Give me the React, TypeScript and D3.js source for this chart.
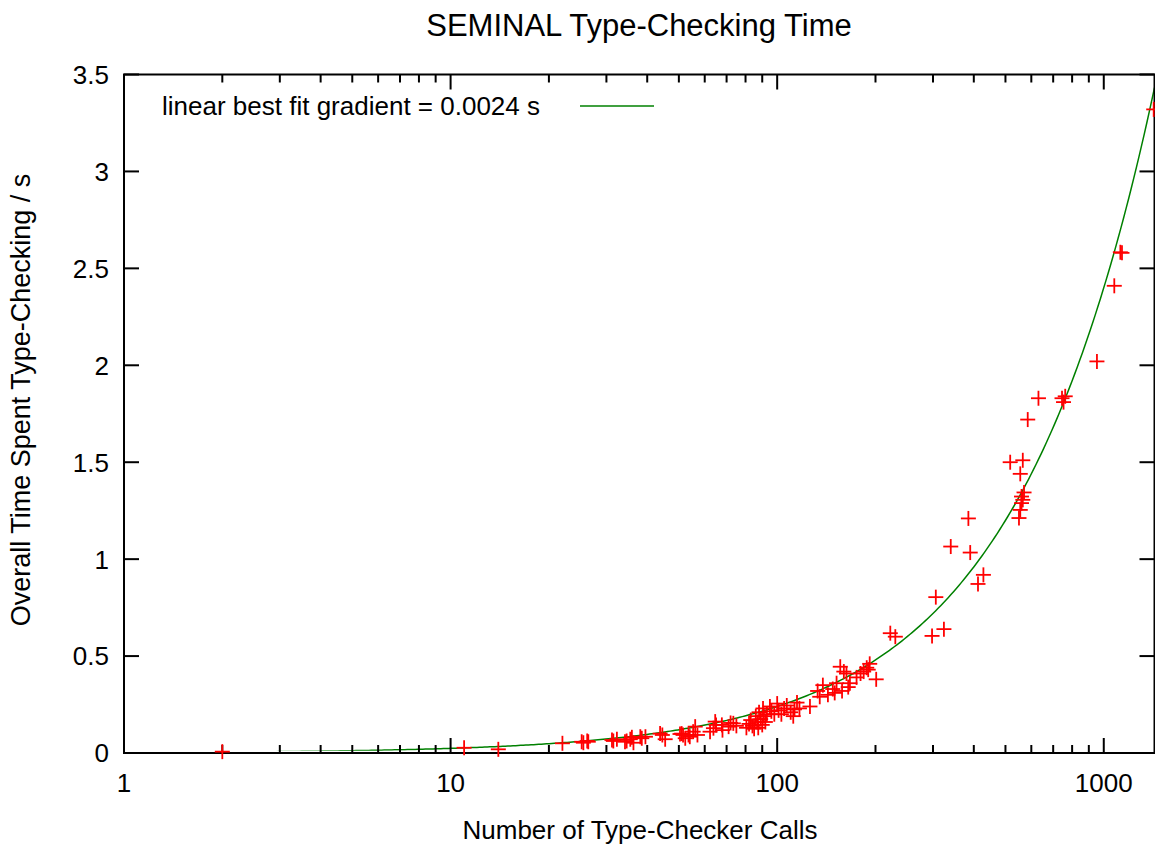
import React from "react";
import * as d3 from "d3";

// number of type-checker calls per run (x) and total time spent type-checking in seconds (y)
const calls = [
  2, 11, 14, 22, 25.2, 25.5, 26.2, 26.4, 31.2, 31.5, 32.3, 34.2, 34.6, 35.5, 35.9, 36.3,
  38.1, 38.5, 39.5, 43.8, 44.5, 45.4, 50.4, 51, 51.5, 52.3, 53.5, 54, 55.3, 56.1, 57,
  62.3, 63.8, 64.6, 65, 67.7, 68, 71, 72, 73.4, 75, 80.5, 82, 83, 84, 85, 86, 87, 87.5,
  88, 89, 90, 90.5, 91, 92, 93, 95, 96, 98, 100, 101, 103, 105, 107, 110, 112, 113, 115,
  117, 126, 133, 135, 138, 143, 148, 150, 152, 156, 158, 160, 163, 165, 167, 175, 180,
  184, 188, 190, 192, 201, 222, 230, 298, 306, 324, 340, 385, 390, 412, 428, 517, 550,
  555, 555, 560, 560, 565, 565, 570, 585, 631, 745, 753, 762, 953, 1077, 1124, 1137, 1422,
];
const seconds = [
  0.007, 0.027, 0.019, 0.05, 0.058, 0.053, 0.062, 0.058, 0.067, 0.062, 0.071, 0.058, 0.062,
  0.071, 0.081, 0.053, 0.084, 0.076, 0.084, 0.1, 0.093, 0.071, 0.098, 0.1, 0.093, 0.076,
  0.093, 0.084, 0.11, 0.136, 0.093, 0.11, 0.128, 0.162, 0.145, 0.145, 0.118, 0.136, 0.155,
  0.153, 0.14, 0.13, 0.15, 0.17, 0.14, 0.125, 0.19, 0.16, 0.13, 0.21, 0.175, 0.145, 0.23,
  0.19, 0.16, 0.2, 0.24, 0.215, 0.2, 0.255, 0.22, 0.2, 0.23, 0.245, 0.21, 0.19, 0.225,
  0.26, 0.23, 0.24, 0.32, 0.29, 0.35, 0.3, 0.33, 0.31, 0.36, 0.445, 0.32, 0.42, 0.41, 0.34,
  0.36, 0.39, 0.41, 0.42, 0.44, 0.43, 0.46, 0.38, 0.618, 0.6, 0.604, 0.804, 0.639, 1.065,
  1.21, 1.034, 0.872, 0.919, 1.5, 1.212, 1.254, 1.44, 1.289, 1.323, 1.306, 1.51, 1.344,
  1.72, 1.83, 1.83, 1.81, 1.84, 2.02, 2.41, 2.583, 2.58, 3.32,
];

const yTickValues = [0, 0.5, 1, 1.5, 2, 2.5, 3, 3.5];
const xTickValues = [1, 10, 100, 1000];
const gradient = 0.0024; // slope of the linear fit, as given in the key

const width = 1155;
const height = 846;
const margin = { top: 74.5, right: 0.5, bottom: 93, left: 124 };
const font = "'Liberation Sans', Arial, sans-serif";

export default function App() {
  const x = d3.scaleLog().domain([1, 1430]).range([margin.left, width - margin.right]);
  const y = d3.scaleLinear().domain([0, 3.5]).range([height - margin.bottom, margin.top]);
  const [x0, x1] = x.range();
  const [yb, yt] = y.range();

  const minorTicks = xTickValues
    .flatMap((d) => d3.range(2, 10).map((k) => d * k))
    .filter((v) => v < x.domain()[1]);

  const fitLine = d3
    .line<number>()
    .x((v) => x(v))
    .y((v) => y(gradient * v));
  const fitXs = d3.range(0, 401).map((i) => Math.pow(10, (i / 400) * Math.log10(x.domain()[1])));

  const points = calls.map((c, i) => ({ c, s: seconds[i] }));
  const arm = 7.5;

  return (
    <svg
      width={width}
      height={height}
      style={{ position: "absolute", left: 0, top: 0, background: "#fff" }}
      fontFamily={font}
    >
      <defs>
        <clipPath id="plotClip">
          <rect x={x0} y={yt} width={x1 - x0} height={yb - yt - 2.2} />
        </clipPath>
      </defs>
      <rect width={width} height={height} fill="#fff" />

      {/* fit curve */}
      <path
        d={fitLine(fitXs) || ""}
        fill="none"
        stroke="#008000"
        strokeWidth={1.5}
        clipPath="url(#plotClip)"
      />

      {/* border */}
      <rect x={x0} y={yt} width={x1 - x0} height={yb - yt} fill="none" stroke="#000" strokeWidth={2} />

      {/* y ticks, mirrored on the right */}
      {yTickValues.map((t) => (
        <g key={"y" + t}>
          <line x1={x0} x2={x0 + 15} y1={y(t)} y2={y(t)} stroke="#000" strokeWidth={2} />
          <line x1={x1} x2={x1 - 15} y1={y(t)} y2={y(t)} stroke="#000" strokeWidth={2} />
          <text x={x0 - 15} y={y(t)} dy="0.36em" textAnchor="end" fontSize={26}>
            {t}
          </text>
        </g>
      ))}

      {/* x major ticks */}
      {xTickValues.map((t) => (
        <g key={"x" + t}>
          <line x1={x(t)} x2={x(t)} y1={yb} y2={yb - 15} stroke="#000" strokeWidth={2} />
          <line x1={x(t)} x2={x(t)} y1={yt} y2={yt + 15} stroke="#000" strokeWidth={2} />
          <text x={x(t)} y={yb + 30} dy="0.36em" textAnchor="middle" fontSize={26}>
            {t}
          </text>
        </g>
      ))}
      {/* x minor ticks */}
      {minorTicks.map((t) => (
        <g key={"m" + t}>
          <line x1={x(t)} x2={x(t)} y1={yb} y2={yb - 8} stroke="#000" strokeWidth={2} />
          <line x1={x(t)} x2={x(t)} y1={yt} y2={yt + 8} stroke="#000" strokeWidth={2} />
        </g>
      ))}

      {/* data points */}
      {points.map((p, i) => (
        <g key={"p" + i} stroke="#ff0000" strokeWidth={1.8}>
          <line x1={x(p.c) - arm} x2={x(p.c) + arm} y1={y(p.s)} y2={y(p.s)} />
          <line x1={x(p.c)} x2={x(p.c)} y1={y(p.s) - arm} y2={y(p.s) + arm} />
        </g>
      ))}

      {/* key */}
      <text x={540} y={106} dy="0.36em" textAnchor="end" fontSize={26}>
        linear best fit gradient = 0.0024 s
      </text>
      <line x1={580} x2={654} y1={106} y2={106} stroke="#008000" strokeWidth={1.5} />

      {/* titles */}
      <text x={639} y={25} dy="0.36em" textAnchor="middle" fontSize={31}>
        SEMINAL Type-Checking Time
      </text>
      <text x={640} y={830} dy="0.36em" textAnchor="middle" fontSize={26}>
        Number of Type-Checker Calls
      </text>
      <text
        transform={`translate(20,400) rotate(-90)`}
        dy="0.36em"
        textAnchor="middle"
        fontSize={27}
      >
        Overall Time Spent Type-Checking / s
      </text>
    </svg>
  );
}
